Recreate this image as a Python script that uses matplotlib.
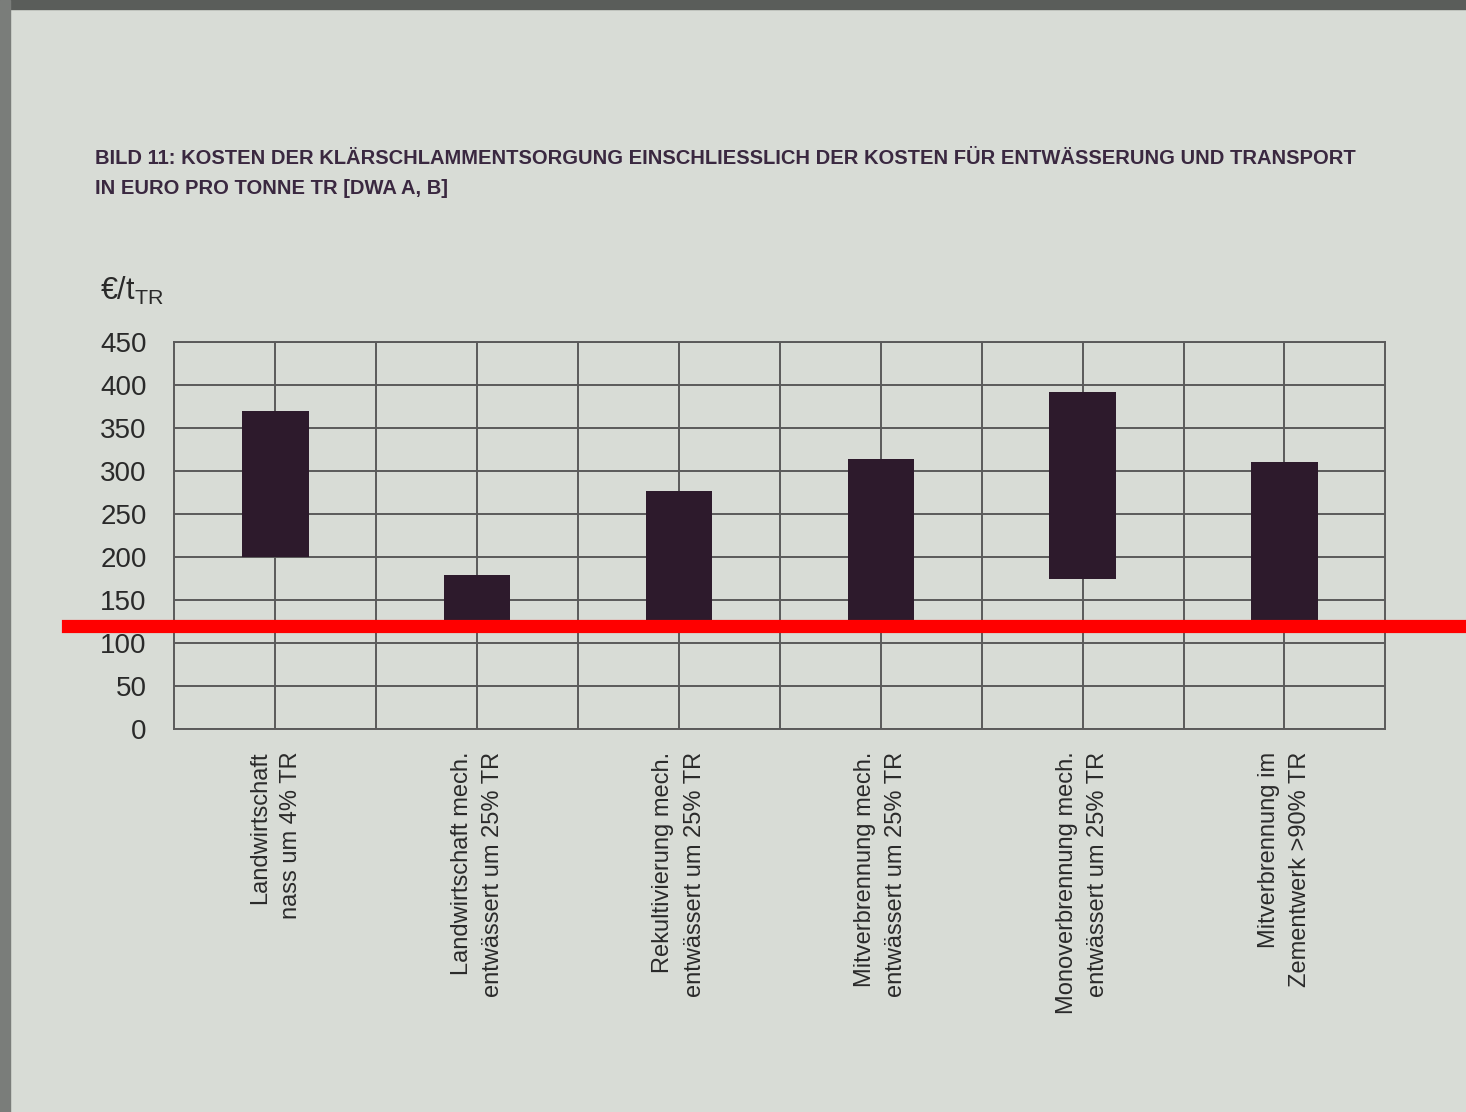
import matplotlib
matplotlib.use('Agg')
import matplotlib.pyplot as plt
from matplotlib.patches import Rectangle

plt.rcParams['font.family'] = ['Liberation Sans Narrow', 'Liberation Sans', 'DejaVu Sans']

# Daten (Kosten in €/t TR, von-bis)
kategorien = ['Landwirtschaft\nnass um 4% TR',
              'Landwirtschaft mech.\nentwässert um 25% TR',
              'Rekultivierung mech.\nentwässert um 25% TR',
              'Mitverbrennung mech.\nentwässert um 25% TR',
              'Monoverbrennung mech.\nentwässert um 25% TR',
              'Mitverbrennung im\nZementwerk >90% TR']
kosten_min = [200, 120, 120, 120, 175, 120]
kosten_max = [370, 180, 277, 315, 393, 311]
rote_linie = 120

y_ticks = [0, 50, 100, 150, 200, 250, 300, 350, 400, 450]

bg = '#d8dcd6'
fig = plt.figure(figsize=(14.66, 11.12), dpi=100, facecolor=bg)
# dunkler Rand vom Foto (oben und links)
fig.patches.append(Rectangle((0, 0.992), 1, 0.008, transform=fig.transFigure,
                             color='#5a5d5a', zorder=0))
fig.patches.append(Rectangle((0, 0), 0.007, 1, transform=fig.transFigure,
                             color='#7a7d7a', zorder=0))

ax = fig.add_axes([0.119, 0.344, 0.826, 0.348])
ax.set_facecolor(bg)

x = list(range(len(kategorien)))
hoehe = [o - u for o, u in zip(kosten_max, kosten_min)]
ax.bar(x, hoehe, bottom=kosten_min, width=0.33, color='#2d1a2c', zorder=3)

ax.set_xlim(-0.5, len(kategorien) - 0.5)
ax.set_ylim(0, 450)
ax.set_yticks(y_ticks)
ax.set_yticklabels([str(v) for v in y_ticks], fontsize=20, color='#2a2a2a')
ax.set_xticks(x)
ax.set_xticklabels(kategorien, rotation=90, fontsize=17, color='#2a2a2a',
                   va='top', ha='center', multialignment='right',
                   linespacing=1.55)
ax.set_xticks([i + 0.5 for i in x[:-1]], minor=True)
ax.tick_params(axis='both', which='both', length=0)
ax.tick_params(axis='x', pad=16)
ax.tick_params(axis='y', pad=20)

ax.grid(True, which='both', color='#5a5a5a', linewidth=1.4, zorder=1)
for s in ax.spines.values():
    s.set_color('#5a5a5a')
    s.set_linewidth(1.4)

ax.axhline(rote_linie, xmin=-0.088, xmax=1.07, color='#ff0000', linewidth=9.5,
           clip_on=False, zorder=5)

fig.text(0.065, 0.866,
         'BILD 11: KOSTEN DER KLÄRSCHLAMMENTSORGUNG EINSCHLIESSLICH DER KOSTEN FÜR ENTWÄSSERUNG UND TRANSPORT\n'
         'IN EURO PRO TONNE TR [DWA A, B]',
         fontsize=14.5, fontweight='bold', color='#3a2840', va='top', ha='left',
         linespacing=1.75)
fig.text(0.068, 0.724, '€/t$_{\\mathregular{TR}}$', fontsize=22, color='#2a2a2a',
         ha='left', va='bottom')

fig.savefig('out.png', dpi=100, facecolor=bg)
